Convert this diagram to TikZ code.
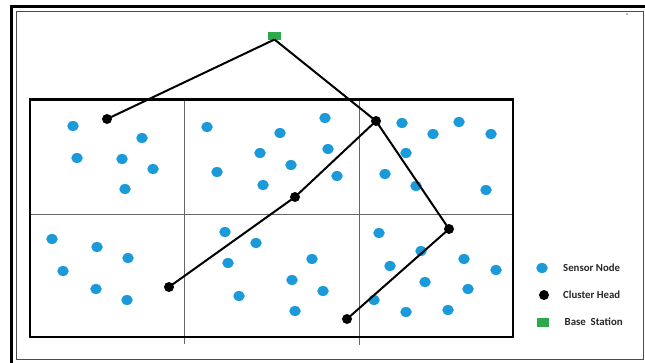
\documentclass[tikz,border=0pt]{standalone}
\usepackage{fontspec}
\setmainfont{Carlito}
\usetikzlibrary{shapes.geometric}
\definecolor{sensorblue}{HTML}{1A9AD8}
\definecolor{bsgreen}{HTML}{2EA84C}
\begin{document}
\begin{tikzpicture}[x=1pt,y=-1pt,
  sensor/.style={ellipse,fill=sensorblue,inner sep=0pt,minimum width=11.5pt,minimum height=10pt},
  head/.style={circle,fill=black,inner sep=0pt,minimum size=10pt},
  bs/.style={rectangle,fill=bsgreen,inner sep=0pt,minimum width=13pt,minimum height=8pt},
  link/.style={line width=2pt,black},
  divider/.style={line width=0.6pt,gray!80!black},
  legtext/.style={anchor=west,font=\bfseries\fontsize{10.8}{12}\selectfont,inner sep=0pt,text=black!85}]
\useasboundingbox (0,0) rectangle (645,362);
% frames
\draw[line width=2.4pt] (11.5,375) -- (11.5,6.5) -- (660,6.5);
\draw[line width=0.6pt,gray!60!black] (16,11) rectangle (643,359.5);
\fill[gray] (627,14) circle (0.8pt);
% grid
\draw[divider] (184,100) -- (184,344);
\draw[divider] (359,100) -- (359,345);
\draw[divider] (30,214) -- (513,214);
\draw[line width=2.4pt] (30,99.5) rectangle (513,337);
% sensors
\foreach \i/\x/\y in {1/73/126,2/142/138,3/77/158,4/122/159,5/153/169,6/125/189,
  7/207/127,8/280/133,9/325/118,10/260/153,11/328/149,12/291/165,13/217/172,14/263/185,
  15/337/176,16/402/123,17/433/134,18/459/122,19/491/134,20/406/153,21/385/174,22/416/186,23/486/190,
  24/52/239,25/97/247,26/128/258,27/63/271,28/96/289,29/127/300,
  30/225/232,31/256/243,32/228/263,33/312/259,34/292/280,35/323/291,36/239/296,37/295/311,
  38/379/233,39/421/251,40/390/266,41/464/259,42/496/270,43/425/282,44/468/289,45/374/300,46/406/312,47/448/310}
  \node[sensor] (s\i) at (\x,\y) {};
% base station and cluster heads
\node[bs] (bs) at (274.5,36) {};
\coordinate (bsb) at (274.5,39.5);
\node[head] (h1) at (107,119) {};
\node[head] (h2) at (376,121) {};
\node[head] (h3) at (295,197) {};
\node[head] (h4) at (449,229) {};
\node[head] (h5) at (169,287) {};
\node[head] (h6) at (347,319) {};
% links
\draw[link] (bsb) -- (h1.center);
\draw[link] (bsb) -- (h2.center) -- (h4.center) -- (h6.center);
\draw[link] (h2.center) -- (h3.center) -- (h5.center);
% legend
\node[sensor] (l1) at (542,268) {};
\node[head] (l2) at (544,295) {};
\node[bs,minimum width=12pt,minimum height=8.5pt] (l3) at (543,322.5) {};
\node[legtext] (t1) at (563,268) {Sensor Node};
\node[legtext] (t2) at (563,295) {Cluster Head};
\node[legtext] (t3) at (564.5,322) {Base\ \ Station};
\end{tikzpicture}
\end{document}
